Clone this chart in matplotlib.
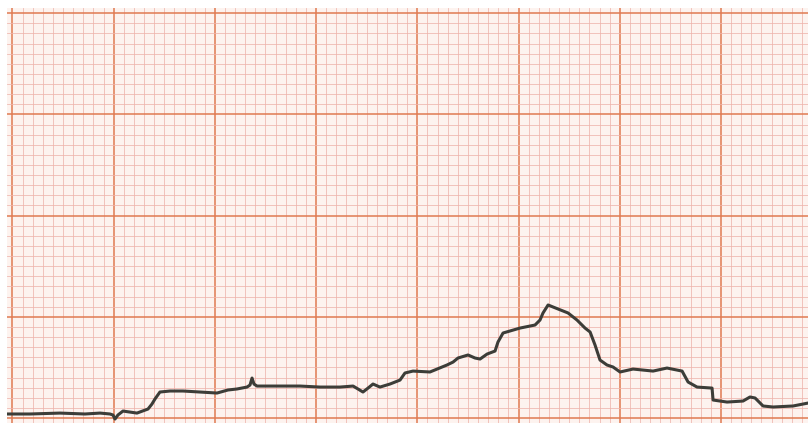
import numpy as np
import matplotlib
matplotlib.use("Agg")
import matplotlib.pyplot as plt

# ECG trace: time in small boxes (mm), amplitude in mm above the bottom major line
t_mm = [-0.54, 1.73, 4.69, 7.16, 8.65, 9.63, 9.93, 10.13, 10.42, 10.92, 12.30, 13.39,
        13.78, 14.08, 14.57, 15.56, 16.85, 18.53, 20.21, 21.29, 22.18, 23.17, 23.47,
        23.67, 23.86, 24.16, 25.44, 28.41, 30.39, 32.36, 33.65, 34.14, 34.63, 35.13,
        35.62, 36.31, 37.30, 38.29, 38.78, 39.57, 41.25, 42.93, 43.53, 44.02, 45.01,
        45.70, 46.20, 46.89, 47.68, 47.97, 48.47, 50.15, 51.63, 52.12, 52.42, 52.92,
        53.41, 54.89, 55.78, 56.57, 57.07, 57.56, 58.05, 58.74, 59.34, 60.03, 61.31,
        63.29, 64.67, 66.16, 66.75, 67.64, 69.12, 69.22, 70.60, 72.18, 72.87, 73.37,
        74.16, 75.15, 77.12, 78.60]
v_mm = [0.40, 0.40, 0.49, 0.40, 0.49, 0.40, 0.30, -0.10, 0.30, 0.69, 0.49, 0.89,
        1.38, 1.88, 2.57, 2.67, 2.67, 2.57, 2.47, 2.77, 2.87, 3.06, 3.26,
        3.95, 3.36, 3.16, 3.16, 3.16, 3.06, 3.06, 3.16, 2.87, 2.57, 2.96,
        3.36, 3.06, 3.36, 3.75, 4.45, 4.64, 4.55, 5.24, 5.53, 5.93, 6.23,
        5.93, 5.83, 6.32, 6.62, 7.51, 8.40, 8.89, 9.19, 9.68, 10.38, 11.17,
        10.97, 10.38, 9.68, 8.89, 8.50, 7.21, 5.73, 5.24, 5.04, 4.55, 4.84,
        4.64, 4.94, 4.64, 3.56, 3.06, 2.96, 1.78, 1.58, 1.68, 2.08, 1.98,
        1.19, 1.09, 1.19, 1.48]

major_ticks_x = np.arange(0, 80, 10)
minor_ticks_x = np.arange(0, 79, 1)
major_ticks_y = np.arange(0, 41, 10)
minor_ticks_y = np.arange(0, 41, 1)

fig = plt.figure(figsize=(8.08, 4.23), dpi=100, facecolor="white")
ax = fig.add_axes([7 / 808, 0, 801 / 808, 415 / 423])
ax.set_facecolor("#fdf3ef")

ax.set_xticks(major_ticks_x)
ax.set_xticks(minor_ticks_x, minor=True)
ax.set_yticks(major_ticks_y)
ax.set_yticks(minor_ticks_y, minor=True)
ax.set_xlim(-0.54, 78.6)
ax.set_ylim(-0.49, 40.51)
ax.grid(which="minor", color="#eeb4ac", linewidth=0.6, alpha=0.9)
ax.grid(which="major", color="#e07a52", linewidth=1.1)
ax.set_axisbelow(True)
ax.tick_params(which="both", length=0, labelbottom=False, labelleft=False)
for s in ax.spines.values():
    s.set_visible(False)

ax.plot(t_mm, v_mm, color="#3c3d38", linewidth=2.2, solid_joinstyle="round",
        solid_capstyle="round", zorder=3)

fig.savefig("out.png", dpi=100, facecolor="white")
